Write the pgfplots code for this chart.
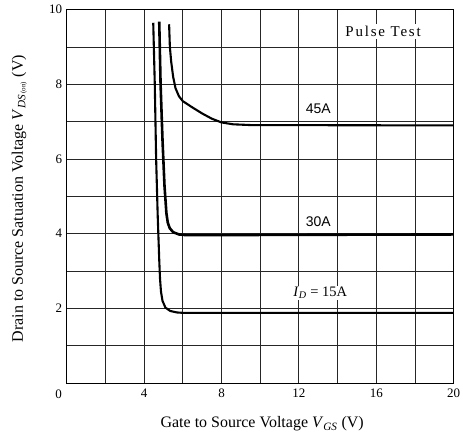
\documentclass[border=0pt]{standalone}
\usepackage{fontspec}
\setmainfont{Liberation Serif}
\setsansfont{Liberation Sans}
\newfontfamily\spacedserif[LetterSpace=12]{Liberation Serif}
\usepackage{pgfplots}
\pgfplotsset{compat=1.18}

\begin{document}
\begin{tikzpicture}
\begin{axis}[
  name=ax,
  scale only axis,
  width=386bp, height=372.4bp,
  xmin=0, xmax=20, ymin=0, ymax=10,
  xtick={4,8,12,16,20},
  ytick={2,4,6,8,10},
  minor xtick={2,6,10,14,18},
  minor ytick={1,3,5,7,9},
  grid=both,
  major grid style={black!85, line width=0.9pt},
  minor grid style={black!85, line width=0.9pt},
  axis line style={black, line width=1pt},
  major tick length=0pt, minor tick length=0pt,
  tick label style={font=\fontsize{13}{15}\selectfont},
  /pgf/number format/assume math mode=true,
  xticklabel style={yshift=-2pt},
  yticklabel style={xshift=-1pt},
  xlabel={Gate to Source Voltage \textit{V}\textsubscript{\textit{GS}} (V)},
  ylabel={Drain to Source Satuation Voltage \textit{V}\textsubscript{\textit{DS}\,{\scriptsize(on)}} (V)},
  label style={font=\fontsize{16}{18}\selectfont},
  xlabel style={at={(axis cs:10.1,-1.1)}, anchor=center},
  ylabel style={at={(axis cs:-2.45,4.94)}, anchor=center},
  clip=false,
]
% I_D = 15 A
\addplot[black, line width=2.1pt, line join=round] coordinates {
  (4.47,9.65) (4.55,8.0) (4.62,6.0) (4.70,4.5) (4.78,3.3) (4.82,2.8)
  (4.87,2.45) (4.95,2.2) (5.1,2.02) (5.35,1.93) (5.7,1.89) (6.0,1.88)
  (10,1.88) (20,1.88)};
% I_D = 30 A
\addplot[black, line width=2.6pt, line join=round] coordinates {
  (4.78,9.68) (4.85,8.0) (4.95,6.5) (5.05,5.3) (5.15,4.55) (5.22,4.3)
  (5.32,4.15) (5.5,4.04) (5.8,3.98) (6.2,3.96) (12,3.97) (20,3.98)};
% I_D = 45 A
\addplot[black, line width=2.1pt, line join=round] coordinates {
  (5.29,9.61) (5.33,9.0) (5.4,8.6) (5.5,8.2) (5.62,7.9) (5.8,7.68)
  (6.0,7.55) (6.5,7.38) (7.0,7.22) (7.5,7.08) (8.0,6.98) (8.6,6.93)
  (9.5,6.91) (20,6.9)};

\node[font=\sffamily\fontsize{14}{16}\selectfont, fill=white, inner sep=1pt] at (axis cs:13.0,7.34) {45A};
\node[font=\sffamily\fontsize{14}{16}\selectfont, fill=white, inner sep=1pt] at (axis cs:13.0,4.33) {30A};
\node[font=\fontsize{14.5}{16}\selectfont, fill=white, inner sep=1pt] at (axis cs:13.1,2.42) {\textit{I}\textsubscript{\textit{D}} = 15A};
\node[font=\spacedserif\fontsize{15}{17}\selectfont, fill=white, inner xsep=3pt, inner ysep=2pt] at (axis cs:16.35,9.42) {Pulse Test};
\node[font=\fontsize{13}{15}\selectfont] at (axis cs:-0.42,-0.29) {0};

\coordinate (bl) at (axis cs:-3.45,-1.50);
\coordinate (tr) at (axis cs:20.48,10.26);
\end{axis}
\pgfresetboundingbox
\path[use as bounding box] (bl) rectangle (tr);
\end{tikzpicture}
\end{document}
